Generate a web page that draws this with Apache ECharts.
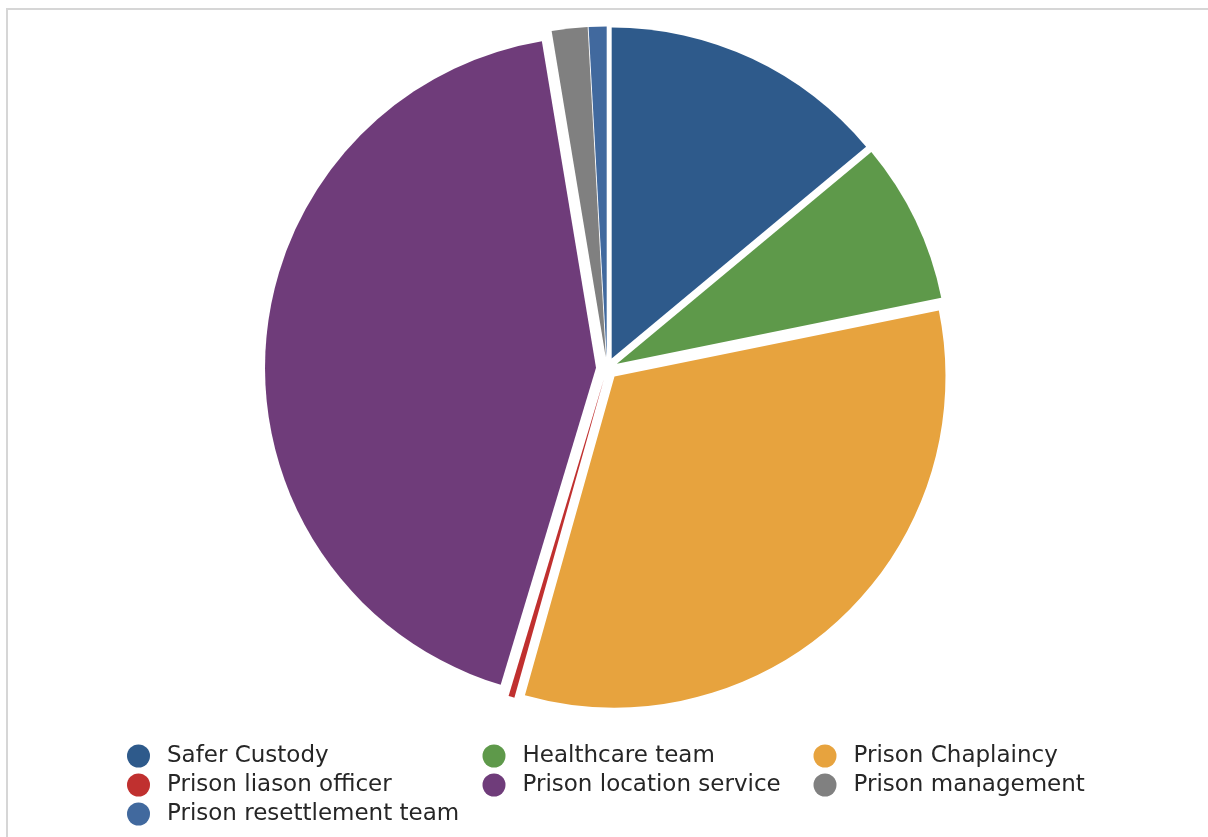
<!DOCTYPE html>
<html>
<head>
<meta charset="utf-8">
<script src="https://cdn.jsdelivr.net/npm/echarts@6/dist/echarts.min.js"></script>
<style>
  html, body { margin: 0; padding: 0; background: #ffffff; overflow: hidden; }
  #frame {
    position: absolute; left: 6px; top: 8px; width: 1400px; height: 1000px;
    border: 2.5px solid #d6d6d6; box-sizing: border-box;
  }
  #chart { position: absolute; left: 0; top: 0; width: 1208px; height: 837px; }
</style>
</head>
<body>
<div id="frame"></div>
<div id="chart"></div>
<script>
// Referral sources, clockwise from 12 o'clock
const categories = [
  'Safer Custody',
  'Healthcare team',
  'Prison Chaplaincy',
  'Prison liason officer',
  'Prison location service',
  'Prison management',
  'Prison resettlement team'
];
const counts = [48, 27, 112, 1, 147, 6, 3];
const colors = ['#2E5A8B', '#5E994A', '#E7A33E', '#C0302F', '#6F3C7A', '#808080', '#41699E'];

// Legend columns (names listed top to bottom in each column)
const legendColumns = [
  ['Safer Custody', 'Prison liason officer', 'Prison resettlement team'],
  ['Healthcare team', 'Prison location service'],
  ['Prison Chaplaincy', 'Prison management']
];
const legendLeft = [127, 482.5, 813.5];

const pieData = categories.map((name, i) => ({
  name: name,
  value: counts[i],
  selected: true,
  itemStyle: { color: colors[i] }
}));

const chart = echarts.init(document.getElementById('chart'), null, { renderer: 'canvas' });

const legends = legendColumns.map((names, c) => ({
  orient: 'vertical',
  left: legendLeft[c],
  top: 744.5,
  padding: 0,
  itemWidth: 23,
  itemHeight: 23,
  itemGap: 6,
  icon: 'circle',
  selectedMode: false,
  data: names,
  textStyle: {
    fontFamily: 'DejaVu Sans',
    fontSize: 23,
    color: '#262626',
    padding: [0, 0, 0, 12],
    lineHeight: 23
  }
}));

chart.setOption({
  animation: false,
  legend: legends,
  series: [{
    type: 'pie',
    center: [607, 368.5],
    radius: 331,
    startAngle: 90,
    clockwise: true,
    selectedMode: 'multiple',
    selectedOffset: 11,
    label: { show: false },
    labelLine: { show: false },
    itemStyle: { borderWidth: 0 },
    select: { itemStyle: { borderWidth: 0 } },
    emphasis: { disabled: true },
    data: pieData
  }]
});
</script>
</body>
</html>
